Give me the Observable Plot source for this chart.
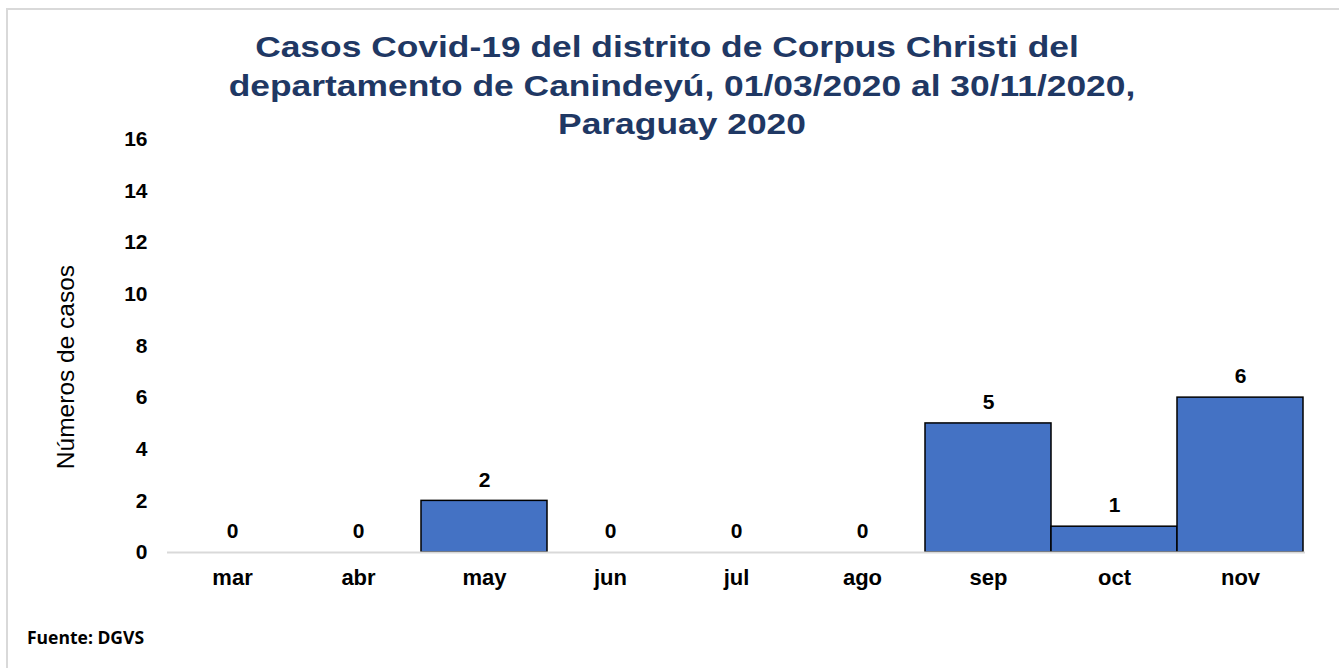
<!DOCTYPE html>
<html><head><meta charset="utf-8">
<script src="https://cdn.jsdelivr.net/npm/d3@7"></script>
<script src="https://cdn.jsdelivr.net/npm/@observablehq/plot@0.6"></script>
<style>
body{margin:0;background:#fff;}
#wrap{position:relative;width:1339px;height:668px;overflow:hidden;font-family:"Liberation Sans",Arial,sans-serif;background:#fff;}
#frame{position:absolute;left:6px;top:8px;width:1400px;height:700px;border-left:2px solid #d9d9d9;border-top:2px solid #d9d9d9;box-sizing:border-box;pointer-events:none;}
#chart{position:absolute;left:0;top:0;}
.tl{position:absolute;white-space:nowrap;color:#1f3864;font-weight:bold;font-size:29px;line-height:38.5px;transform:translateX(-50%) scaleX(1.22);}
#ylabel{position:absolute;left:66px;top:367px;transform:translate(-50%,-50%) rotate(-90deg);white-space:nowrap;font-size:24.5px;color:#000;}
#source{position:absolute;left:27px;top:625px;font-family:"Open Sans",sans-serif;font-weight:bold;font-size:17.5px;color:#000;}
</style></head>
<body>
<div id="wrap">
  <div id="chart"></div>
  <div id="frame"></div>
  <div class="tl" style="left:667px;top:28px;">Casos Covid-19 del distrito de Corpus Christi del</div>
  <div class="tl" style="left:682px;top:66.5px;">departamento de Canindeyú, 01/03/2020 al 30/11/2020,</div>
  <div class="tl" style="left:682px;top:105px;">Paraguay 2020</div>
  <div id="ylabel">Números de casos</div>
  <div id="source">Fuente: DGVS</div>
</div>
<script>
const months = ["mar","abr","may","jun","jul","ago","sep","oct","nov"];
const cases = [0,0,2,0,0,0,5,1,6];
const yTicks = [0,2,4,6,8,10,12,14,16];

const data = months.map((m,i)=>({month:m, cases:cases[i]}));

const chart = Plot.plot({
  width:1339, height:668,
  marginLeft:167, marginRight:34, marginTop:139, marginBottom:116,
  style:{fontFamily:'"Liberation Sans",Arial,sans-serif', fontSize:"21px", fontWeight:"bold", color:"#000", background:"transparent"},
  x:{type:"band", domain:months, padding:0, label:null},
  y:{domain:[0,16], label:null},
  marks:[
    Plot.barY(data.filter(d=>d.cases>0), {x:"month", y:"cases", fill:"#4472c4", stroke:"#000", strokeWidth:1.5}),
    Plot.ruleY([0], {stroke:"#d9d9d9", strokeWidth:2}),
    Plot.text(data, {x:"month", y:"cases", text:d=>String(d.cases), dy:-21, lineAnchor:"middle", fill:"#000"}),
    Plot.axisY(yTicks, {tickSize:0, tickPadding:20, label:null, fill:"#000"}),
    Plot.axisX({tickSize:0, tickPadding:17, label:null, fill:"#000", fontSize:"22px"})
  ]
});
document.getElementById("chart").appendChild(chart);
</script>
</body></html>
